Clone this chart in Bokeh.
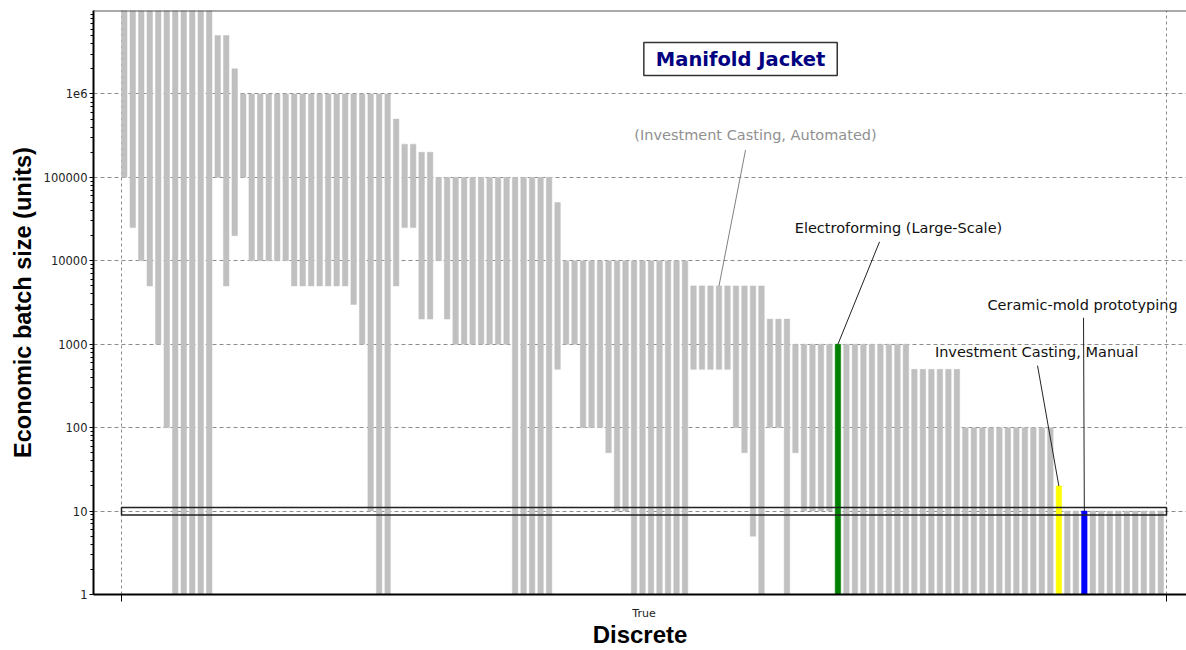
import json
from bokeh.plotting import figure
from bokeh.models import (Range1d, FixedTicker, CustomJSTickFormatter, Label,
                          ColumnDataSource, Span)
from bokeh.embed import file_html
from bokeh.resources import INLINE

# ---------------- data ----------------
# lower / upper economic batch size of each process, in plotted order
batch_low = [
    100000, 25000, 10000, 5000, 1000, 100, 1, 1, 1, 1, 1,
    100000, 5000, 20000, 100000, 10000, 10000, 10000, 10000, 10000,
    5000, 5000, 5000, 5000, 5000, 5000, 5000, 3000, 1000, 10, 1, 1,
    5000, 25000, 25000, 2000, 2000, 10000, 2000,
    1000, 1000, 1000, 1000, 1000, 1000, 1000, 1, 1, 1, 1, 1,
    500, 1000, 1000, 100, 100, 100, 50, 10, 10, 1, 1, 1, 1, 1, 1, 1,
    500, 500, 500, 500, 500, 100, 50, 5, 1, 100, 100, 1, 50, 10, 10, 10, 10,
    1, 1, 1, 1, 1, 1, 1, 1, 1,
    1, 1, 1, 1, 1, 1,
    1, 1, 1, 1, 1, 1, 1, 1, 1, 1, 1,
    1,
    1, 1, 1, 1, 1, 1, 1, 1, 1, 1, 1, 1,
]
batch_high = [
    1e7, 1e7, 1e7, 1e7, 1e7, 1e7, 1e7, 1e7, 1e7, 1e7, 1e7,
    5e6, 5e6, 2e6,
    1e6, 1e6, 1e6, 1e6, 1e6, 1e6, 1e6, 1e6, 1e6, 1e6, 1e6, 1e6, 1e6, 1e6,
    1e6, 1e6, 1e6, 1e6,
    5e5, 2.5e5, 2.5e5, 2e5, 2e5,
    1e5, 1e5, 1e5, 1e5, 1e5, 1e5, 1e5, 1e5, 1e5, 1e5, 1e5, 1e5, 1e5, 1e5,
    5e4,
    1e4, 1e4, 1e4, 1e4, 1e4, 1e4, 1e4, 1e4, 1e4, 1e4, 1e4, 1e4, 1e4, 1e4, 1e4,
    5000, 5000, 5000, 5000, 5000, 5000, 5000, 5000, 5000,
    2000, 2000, 2000,
    1000, 1000, 1000, 1000, 1000, 1000, 1000, 1000, 1000, 1000, 1000, 1000,
    1000, 1000,
    500, 500, 500, 500, 500, 500,
    100, 100, 100, 100, 100, 100, 100, 100, 100, 100, 100,
    20,
    10, 10, 10, 10, 10, 10, 10, 10, 10, 10, 10, 10,
]
# highlighted processes: index -> (name, colour)
highlight_index = [84, 110, 113]
highlight_names = ["Electroforming (Large-Scale)", "Investment Casting, Manual",
                   "Ceramic-mold prototyping"]
highlight_colors = ["#008000", "#ffff00", "#0000ff"]
# greyed, labelled process
grey_label_index = 70
grey_label_name = "(Investment Casting, Automated)"

x_categories = ["True"]
x_axis_title = "Discrete"
y_axis_title = "Economic batch size (units)"
y_tick_values = [1, 10, 100, 1000, 10000, 100000, 1000000]
y_tick_labels = ["1", "10", "100", "1000", "10000", "100000", "1e6"]
band_low, band_high = 9, 11          # selected batch-size band
chart_title = "Manifold Jacket"

# ---------------- layout / style ----------------
N = len(batch_low)
BAR_W = 0.65
GREY = "#c0c0c0"
xs = [i + BAR_W / 2 for i in range(N)]
colors = [GREY] * N
for i, c in zip(highlight_index, highlight_colors):
    colors[i] = c

src = ColumnDataSource(dict(x=xs, bottom=batch_low, top=batch_high, color=colors))

p = figure(width=1186, height=650, y_axis_type="log",
           x_range=Range1d(-3.296, 125.35), y_range=Range1d(1, 1e7),
           output_backend="svg", toolbar_location=None,
           min_border_left=93, min_border_right=0, min_border_top=10,
           min_border_bottom=40)
p.outline_line_color = None
p.background_fill_color = "white"
p.border_fill_color = "white"

p.vbar(x="x", width=BAR_W, bottom="bottom", top="top", fill_color="color",
       line_color="color", line_width=0.5, source=src)

# selected band box
p.quad(left=[0], right=[N], bottom=[band_low], top=[band_high],
       fill_alpha=0, line_color="#222222", line_width=1.5)

# top frame line
p.add_layout(Span(location=p.y_range.end, dimension="width",
                  line_color="#555555", line_width=2))

# grids
p.ygrid.ticker = FixedTicker(ticks=y_tick_values[1:])
p.ygrid.grid_line_color = "#8c8c8c"
p.ygrid.grid_line_dash = "4 3"
p.ygrid.grid_line_width = 1
p.xgrid.ticker = FixedTicker(ticks=[0, N])
p.xgrid.grid_line_color = "#8c8c8c"
p.xgrid.grid_line_dash = "3 3"

# y axis
minor = [m * d for d in y_tick_values for m in range(2, 10)]
p.yaxis.ticker = FixedTicker(ticks=y_tick_values, minor_ticks=minor)
p.yaxis.formatter = CustomJSTickFormatter(code="""
const v = %s; const l = %s;
for (let i = 0; i < v.length; i++) {
  if (Math.abs(Math.log10(v[i]) - Math.log10(tick)) < 1e-6) return l[i];
}
return '';""" % (json.dumps(y_tick_values), json.dumps(y_tick_labels)))
p.yaxis.axis_label = y_axis_title
p.yaxis.axis_label_text_font = "Liberation Sans"
p.yaxis.axis_label_text_font_style = "bold"
p.yaxis.axis_label_text_font_size = "23.5px"
p.yaxis.axis_label_text_color = "black"
p.yaxis.axis_label_standoff = 5
p.yaxis.major_label_text_font = "DejaVu Sans"
p.yaxis.major_label_text_font_size = "11.5px"
p.yaxis.major_label_text_color = "#222222"
p.yaxis.major_label_standoff = 2
p.yaxis.major_tick_out = 4
p.yaxis.major_tick_in = 0
p.yaxis.minor_tick_out = 3
p.yaxis.minor_tick_in = 0
p.yaxis.axis_line_color = "black"
p.yaxis.axis_line_width = 2
p.yaxis.major_tick_line_color = "black"
p.yaxis.minor_tick_line_color = "black"

# x axis
p.xaxis.ticker = FixedTicker(ticks=[N / 2], minor_ticks=[0, N])
p.xaxis.formatter = CustomJSTickFormatter(code="return %s;" % json.dumps(x_categories[0]))
p.xaxis.major_tick_out = 0
p.xaxis.major_tick_in = 0
p.xaxis.minor_tick_out = 7
p.xaxis.minor_tick_in = 0
p.xaxis.minor_tick_line_color = "black"
p.xaxis.axis_line_color = "black"
p.xaxis.axis_line_width = 2
p.xaxis.major_label_standoff = 5
p.xaxis.major_label_text_font = "DejaVu Sans"
p.xaxis.major_label_text_font_size = "11px"
p.xaxis.major_label_text_color = "#222222"
p.xaxis.axis_label = x_axis_title
p.xaxis.axis_label_text_font = "Liberation Sans"
p.xaxis.axis_label_text_font_style = "bold"
p.xaxis.axis_label_text_font_size = "24px"
p.xaxis.axis_label_text_color = "black"
p.xaxis.axis_label_standoff = -2

# title box (placed in data space)
p.add_layout(Label(x=72.86, y=2.62e6, text=chart_title, text_align="center",
                   text_baseline="middle", text_font="DejaVu Sans",
                   text_font_style="bold", text_font_size="19.5px",
                   text_color="#000080", border_line_color="#333333",
                   border_line_width=1.5, background_fill_color="white",
                   padding=(12, 5)))

# annotation placements: (label x, label y, leader start x, leader start y)
ann_place = {
    grey_label_index: (74.62, 3.23e5, 73.45, 2.13e5),
    84: (91.45, 2.48e4, 89.22, 1.69e4),
    113: (113.11, 2972, 113.23, 2075),
    110: (107.70, 813, 107.82, 553),
}
ann_names = {grey_label_index: grey_label_name}
ann_names.update(dict(zip(highlight_index, highlight_names)))
for idx, (lx, ly, sx, sy) in ann_place.items():
    is_grey = idx == grey_label_index
    col = "#909090" if is_grey else "#111111"
    p.segment(x0=[sx], y0=[sy], x1=[xs[idx]], y1=[batch_high[idx]],
              line_color="#808080" if is_grey else "#222222", line_width=1)
    p.add_layout(Label(x=lx, y=ly, text=ann_names[idx], text_align="center",
                       text_baseline="middle", text_font="DejaVu Sans",
                       text_font_size="14.5px", text_color=col))

open("out.html", "w").write(file_html(p, INLINE))
